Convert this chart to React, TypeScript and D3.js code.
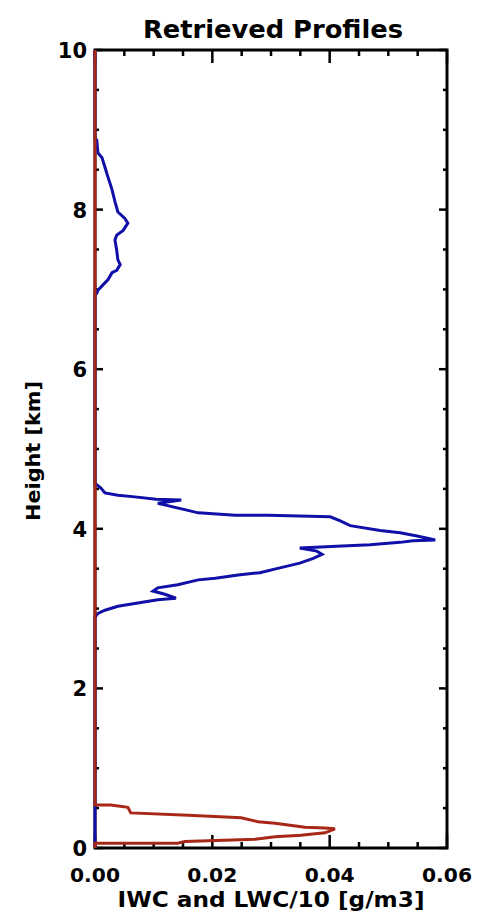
import React from "react";
import * as d3 from "d3";

// Ice water content profile (g/m3), heights in km, listed bottom to top
const iwcHeight = [
  0, 2.89, 2.94, 2.98, 3.03, 3.07, 3.11, 3.13, 3.18, 3.22, 3.26, 3.3, 3.36, 3.38, 3.42, 3.45,
  3.51, 3.57, 3.63, 3.68, 3.72, 3.76, 3.78, 3.8, 3.83, 3.85, 3.86, 3.91, 3.95, 3.98, 4.04,
  4.1, 4.15, 4.17, 4.17, 4.2, 4.24, 4.29, 4.32, 4.36, 4.37, 4.4, 4.42, 4.45, 4.51, 4.54, 4.57,
  6.93, 6.95, 6.99, 7.06, 7.12, 7.21, 7.24, 7.31, 7.37, 7.49, 7.62, 7.68, 7.74, 7.83, 7.89,
  7.97, 8.1, 8.25, 8.41, 8.53, 8.65, 8.71, 8.87, 8.9, 10,
];
const iwcValue = [
  0, 0, 0.0005, 0.0017, 0.0039, 0.0073, 0.0107, 0.0138, 0.0119, 0.0099, 0.0107, 0.0141,
  0.0176, 0.0205, 0.0244, 0.0281, 0.0315, 0.0349, 0.0372, 0.0387, 0.0378, 0.0349, 0.0412,
  0.0469, 0.052, 0.0542, 0.058, 0.0549, 0.052, 0.0486, 0.0435, 0.0418, 0.0401, 0.0295,
  0.0239, 0.0176, 0.0153, 0.0124, 0.0107, 0.0147, 0.0104, 0.0068, 0.0039, 0.0017, 0.001,
  0.0005, 0,
  0, 0.0003, 0.0005, 0.0014, 0.0022, 0.0029, 0.0037, 0.0043, 0.0039, 0.0037, 0.0034,
  0.0037, 0.0048, 0.0056, 0.0051, 0.0039, 0.0034, 0.0029, 0.0022, 0.0017, 0.0012, 0.0005,
  0.0003, 0, 0,
];

// Liquid water content divided by 10 (g/m3), bottom to top
const lwcHeight = [
  0, 0.06, 0.06, 0.08, 0.11, 0.14, 0.16, 0.19, 0.24, 0.25, 0.26, 0.31, 0.33, 0.38, 0.41,
  0.44, 0.51, 0.54, 0.54, 10,
];
const lwcValue = [
  0, 0, 0.0141, 0.0153, 0.0273, 0.0307, 0.0351, 0.0392, 0.0409, 0.0392, 0.0358, 0.0307,
  0.0278, 0.0249, 0.0159, 0.0061, 0.0056, 0.0027, 0, 0,
];

const xMajorTicks = [0, 0.02, 0.04, 0.06];
const xTickLabels = ["0.00", "0.02", "0.04", "0.06"];
const yMajorTicks = [0, 2, 4, 6, 8, 10];
const yTickLabels = ["0", "2", "4", "6", "8", "10"];

const title = "Retrieved Profiles";
const xTitle = "IWC and LWC/10 [g/m3]";
const yTitle = "Height [km]";

const W = 481;
const H = 918;
const left = 95;
const right = 447;
const top = 50;
const bottom = 848;

const FONT = "'DejaVu Sans', sans-serif";

export default function App() {
  const x = d3.scaleLinear().domain([0, 0.06]).range([left, right]);
  const y = d3.scaleLinear().domain([0, 10]).range([bottom, top]);

  const line = d3
    .line<[number, number]>()
    .x((d) => x(d[0]))
    .y((d) => y(d[1]));

  const iwcPts = iwcHeight.map((h, i) => [iwcValue[i], h] as [number, number]);
  const lwcPts = lwcHeight.map((h, i) => [lwcValue[i], h] as [number, number]);

  const xMinor = d3.range(0, 0.0601, 0.005).filter((v) => !xMajorTicks.some((m) => Math.abs(m - v) < 1e-9));
  const yMinor = d3.range(0, 10.01, 0.5).filter((v) => !yMajorTicks.some((m) => Math.abs(m - v) < 1e-9));

  const xMajLen = 13;
  const xMinLen = 6;
  const yMajLen = 8;
  const yMinLen = 4;

  return (
    <svg
      width={W}
      height={H}
      style={{ position: "absolute", left: 0, top: 0, background: "#fff" }}
    >
      <rect x={0} y={0} width={W} height={H} fill="#fff" />

      {/* x ticks, bottom and top, pointing inward */}
      {xMajorTicks.map((v) => (
        <g key={"xM" + v} stroke="#000" strokeWidth={2.5}>
          <line x1={x(v)} x2={x(v)} y1={bottom} y2={bottom - xMajLen} />
          <line x1={x(v)} x2={x(v)} y1={top} y2={top + xMajLen} />
        </g>
      ))}
      {xMinor.map((v) => (
        <g key={"xm" + v} stroke="#000" strokeWidth={2.5}>
          <line x1={x(v)} x2={x(v)} y1={bottom} y2={bottom - xMinLen} />
          <line x1={x(v)} x2={x(v)} y1={top} y2={top + xMinLen} />
        </g>
      ))}

      {/* y ticks, left and right, pointing inward */}
      {yMajorTicks.map((v) => (
        <g key={"yM" + v} stroke="#000" strokeWidth={2.5}>
          <line x1={left} x2={left + yMajLen} y1={y(v)} y2={y(v)} />
          <line x1={right} x2={right - yMajLen} y1={y(v)} y2={y(v)} />
        </g>
      ))}
      {yMinor.map((v) => (
        <g key={"ym" + v} stroke="#000" strokeWidth={2.5}>
          <line x1={left} x2={left + yMinLen} y1={y(v)} y2={y(v)} />
          <line x1={right} x2={right - yMinLen} y1={y(v)} y2={y(v)} />
        </g>
      ))}

      {/* frame */}
      <rect
        x={left}
        y={top}
        width={right - left}
        height={bottom - top}
        fill="none"
        stroke="#000"
        strokeWidth={3}
      />

      {/* profiles */}
      <path d={line(iwcPts) ?? ""} fill="none" stroke="#1010a8" strokeWidth={3} strokeLinejoin="miter" />
      <path d={line(lwcPts) ?? ""} fill="none" stroke="#a82818" strokeWidth={3} strokeLinejoin="miter" />

      {/* tick labels */}
      {xMajorTicks.map((v, i) => (
        <text
          key={"xl" + v}
          x={x(v)}
          y={882}
          textAnchor="middle"
          fontFamily={FONT}
          fontWeight="bold"
          fontSize={20}
          textLength={50}
          lengthAdjust="spacingAndGlyphs"
          fill="#000"
        >
          {xTickLabels[i]}
        </text>
      ))}
      {yMajorTicks.map((v, i) => (
        <text
          key={"yl" + v}
          x={87}
          y={y(v) + 8}
          textAnchor="end"
          fontFamily={FONT}
          fontWeight="bold"
          fontSize={21}
          fill="#000"
        >
          {yTickLabels[i]}
        </text>
      ))}

      {/* titles */}
      <text
        x={273}
        y={38}
        textAnchor="middle"
        fontFamily={FONT}
        fontWeight="bold"
        fontSize={25}
        textLength={260}
        lengthAdjust="spacingAndGlyphs"
        fill="#000"
      >
        {title}
      </text>
      <text
        x={271}
        y={907}
        textAnchor="middle"
        fontFamily={FONT}
        fontWeight="bold"
        fontSize={21}
        textLength={307}
        lengthAdjust="spacingAndGlyphs"
        fill="#000"
      >
        {xTitle}
      </text>
      <text
        transform="translate(40,451) rotate(-90)"
        textAnchor="middle"
        fontFamily={FONT}
        fontWeight="bold"
        fontSize={19}
        textLength={140}
        lengthAdjust="spacingAndGlyphs"
        fill="#000"
      >
        {yTitle}
      </text>
    </svg>
  );
}
